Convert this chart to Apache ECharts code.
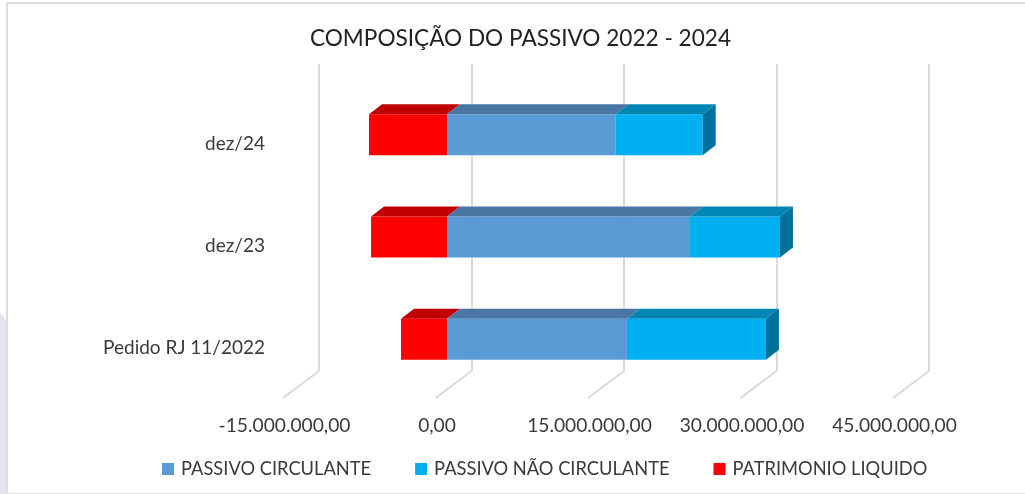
<!DOCTYPE html>
<html>
<head>
<meta charset="utf-8">
<title>Composição do passivo</title>
<script src="https://cdn.jsdelivr.net/npm/echarts@6/dist/echarts.min.js"></script>
<style>
  html, body { margin: 0; padding: 0; background: #fff; }
  #chart { width: 1025px; height: 494px; }
</style>
</head>
<body>
<div id="chart"></div>
<script>
const categories = ['Pedido RJ 11/2022', 'dez/23', 'dez/24']
const passivoCirculante = [17700000, 23900000, 16600000]
const passivoNaoCirculante = [13670000, 8850000, 8550000]
const patrimonioLiquido = [-4520000, -7470000, -7670000]
const tickValues = [-15000000, 0, 15000000, 30000000, 45000000]
const tickLabels = ['-15.000.000,00', '0,00', '15.000.000,00', '30.000.000,00', '45.000.000,00']

const FONT = 'Lato'
const TEXT = '#3a3a3a'
const GRID_LINE = '#dadada'
const BAR_HEIGHT = 41
// 3D look: shift of the wall from the floor's front edge, and of the bar inside it
const FLOOR_DX = 36
const FLOOR_DY = 27
const BAR_DX = 10
const BAR_DY = -9
const DEPTH_DX = 13
const DEPTH_DY = -10

function barSeries(name, color, topColor, sideColor, rows) {
  return {
    name,
    type: 'custom',
    xAxisIndex: 1,
    yAxisIndex: 1,
    itemStyle: { color },
    data: rows,
    z: 5,
    renderItem: (params, api) => {
      const a = api.coord([api.value(0), api.value(2)])
      const b = api.coord([api.value(1), api.value(2)])
      const x0 = a[0] + BAR_DX
      const x1 = b[0] + BAR_DX
      const top = a[1] + BAR_DY - BAR_HEIGHT / 2
      const bottom = top + BAR_HEIGHT
      const children = [
        { type: 'rect', shape: { x: x0, y: top, width: x1 - x0, height: BAR_HEIGHT }, style: { fill: color } },
        {
          type: 'polygon',
          shape: { points: [[x0, top], [x1, top], [x1 + DEPTH_DX, top + DEPTH_DY], [x0 + DEPTH_DX, top + DEPTH_DY]] },
          style: { fill: topColor }
        }
      ]
      if (sideColor) {
        children.push({
          type: 'polygon',
          shape: { points: [[x1, top], [x1 + DEPTH_DX, top + DEPTH_DY], [x1 + DEPTH_DX, bottom + DEPTH_DY], [x1, bottom]] },
          style: { fill: sideColor }
        })
      }
      return { type: 'group', children }
    }
  }
}

const rowsCirculante = categories.map((_, i) => [0, passivoCirculante[i], i])
const rowsNaoCirculante = categories.map((_, i) => [passivoCirculante[i], passivoCirculante[i] + passivoNaoCirculante[i], i])
const rowsPatrimonio = categories.map((_, i) => [patrimonioLiquido[i], 0, i])

const chart = echarts.init(document.getElementById('chart'), null, { renderer: 'canvas' })

chart.setOption({
  backgroundColor: '#fff',
  animation: false,
  textStyle: { fontFamily: FONT },
  title: {
    text: 'COMPOSIÇÃO DO PASSIVO 2022 - 2024',
    left: 515.5,
    top: 22,
    textAlign: 'center',
    textStyle: { fontFamily: FONT, fontSize: 22.6, fontWeight: 'normal', color: '#222' }
  },
  legend: {
    left: 157,
    top: 455,
    icon: 'rect',
    itemWidth: 12,
    itemHeight: 12,
    itemGap: 44,
    selectedMode: false,
    data: ['PASSIVO CIRCULANTE', 'PASSIVO NÃO CIRCULANTE', 'PATRIMONIO LIQUIDO'],
    textStyle: { fontFamily: FONT, fontSize: 18.3, color: TEXT, padding: [0, 0, 0, 2] }
  },
  // grid 0 is the back wall, grid 1 the front edge of the floor
  grid: [
    { left: 319, right: 96, top: 64, bottom: 123 },
    { left: 284.5, right: 130.5, top: 92.5, bottom: 94.5 }
  ],
  xAxis: [
    {
      gridIndex: 0,
      type: 'value',
      min: -15000000,
      max: 45000000,
      interval: 15000000,
      axisLine: { show: false },
      axisTick: { show: false },
      axisLabel: { show: false },
      splitLine: { show: true, lineStyle: { color: GRID_LINE, width: 2 } }
    },
    {
      gridIndex: 1,
      type: 'value',
      min: -15000000,
      max: 45000000,
      interval: 15000000,
      axisLine: { show: false },
      axisTick: { show: false },
      splitLine: { show: false },
      axisLabel: {
        margin: 16.5,
        fontFamily: FONT,
        fontSize: 19.2,
        color: TEXT,
        hideOverlap: false,
        formatter: (value) => tickLabels[tickValues.indexOf(value)]
      }
    }
  ],
  yAxis: [
    { gridIndex: 0, type: 'value', min: 0, max: 1, show: false },
    {
      gridIndex: 1,
      type: 'category',
      data: categories,
      axisLine: { show: false },
      axisTick: { show: false },
      axisLabel: { margin: 19.5, fontFamily: FONT, fontSize: 19, color: TEXT }
    }
  ],
  graphic: [
    { type: 'polygon', z: 0, shape: { points: [[0, 312], [7, 322], [7, 494], [0, 494]] }, style: { fill: '#e4e4f0' } },
    { type: 'rect', z: 0, shape: { x: 6, y: 2, width: 2, height: 492 }, style: { fill: '#dcdcdc' } },
    { type: 'rect', z: 0, shape: { x: 6, y: 2, width: 1019, height: 2 }, style: { fill: '#dcdcdc' } },
    { type: 'rect', z: 0, shape: { x: 7, y: 493, width: 1018, height: 1 }, style: { fill: '#e6e6e6' } }
  ],
  series: [
    {
      name: 'floor',
      type: 'custom',
      xAxisIndex: 0,
      yAxisIndex: 0,
      data: tickValues.map((v) => [v, 0]),
      z: 1,
      renderItem: (params, api) => {
        const p = api.coord([api.value(0), api.value(1)])
        return {
          type: 'line',
          shape: { x1: p[0], y1: p[1], x2: p[0] - FLOOR_DX, y2: p[1] + FLOOR_DY },
          style: { stroke: GRID_LINE, lineWidth: 2 }
        }
      }
    },
    barSeries('PATRIMONIO LIQUIDO', '#ff0000', '#c00000', null, rowsPatrimonio),
    barSeries('PASSIVO CIRCULANTE', '#5b9bd5', '#4a76a3', null, rowsCirculante),
    barSeries('PASSIVO NÃO CIRCULANTE', '#00b0f0', '#0085b5', '#00719b', rowsNaoCirculante)
  ]
})

window.addEventListener('resize', () => chart.resize())
</script>
</body>
</html>
